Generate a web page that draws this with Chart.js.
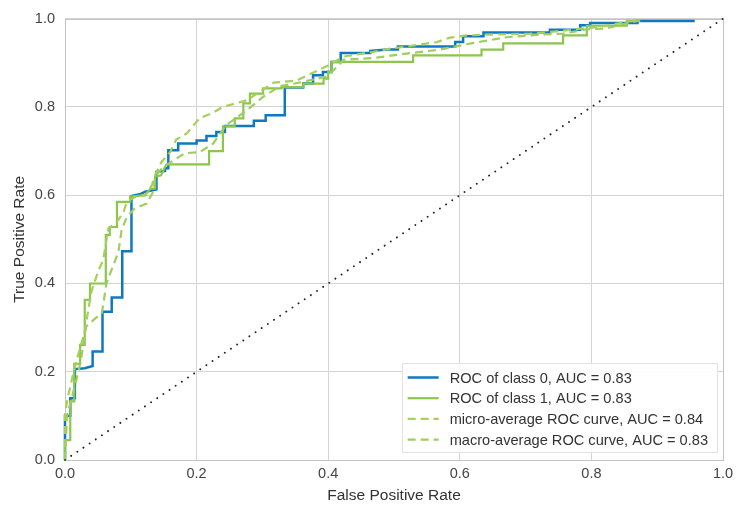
<!DOCTYPE html>
<html>
<head>
<meta charset="utf-8">
<script src="https://cdn.jsdelivr.net/npm/chart.js@4.4.0/dist/chart.umd.min.js"></script>
<style>
  html, body { margin: 0; padding: 0; background: #fff; }
  #wrap { width: 744px; height: 514px; }
</style>
</head>
<body>
<div id="wrap"><canvas id="roc" width="744" height="514"></canvas></div>
<script>
// axis ticks (both axes)
const tickValues = [0, 0.2, 0.4, 0.6, 0.8, 1.0];

const seriesLabels = [
  'ROC of class 0, AUC = 0.83',
  'ROC of class 1, AUC = 0.83',
  'micro-average ROC curve, AUC = 0.84',
  'macro-average ROC curve, AUC = 0.83'
];

// [fpr, tpr] pairs
const class0Roc = [
  [0, 0], [0, 0.1], [0.008, 0.1], [0.008, 0.14], [0.015, 0.14], [0.015, 0.206], [0.03, 0.208],
  [0.042, 0.213], [0.042, 0.246], [0.057, 0.246], [0.057, 0.336], [0.071, 0.336], [0.071, 0.368],
  [0.087, 0.368], [0.087, 0.473], [0.101, 0.473], [0.101, 0.598], [0.115, 0.603], [0.122, 0.608],
  [0.139, 0.613], [0.139, 0.653], [0.152, 0.655], [0.152, 0.661], [0.157, 0.661], [0.157, 0.702],
  [0.172, 0.702], [0.172, 0.717], [0.2, 0.717], [0.2, 0.724], [0.215, 0.724], [0.215, 0.734],
  [0.23, 0.734], [0.23, 0.743], [0.243, 0.743], [0.243, 0.757], [0.287, 0.757], [0.287, 0.769],
  [0.305, 0.769], [0.305, 0.781], [0.334, 0.781], [0.334, 0.844], [0.362, 0.844], [0.362, 0.853],
  [0.377, 0.853], [0.377, 0.872], [0.392, 0.872], [0.392, 0.879], [0.405, 0.879], [0.405, 0.902],
  [0.419, 0.902], [0.419, 0.922], [0.464, 0.922], [0.464, 0.927], [0.49, 0.93], [0.506, 0.93],
  [0.506, 0.937], [0.593, 0.937], [0.593, 0.947], [0.605, 0.947], [0.605, 0.96], [0.636, 0.96],
  [0.636, 0.969], [0.737, 0.969], [0.737, 0.975], [0.783, 0.975], [0.783, 0.985], [0.798, 0.985],
  [0.798, 0.99], [0.87, 0.99], [0.87, 0.995], [0.957, 0.995]
];

const class1Roc = [
  [0, 0], [0, 0.045], [0.008, 0.045], [0.008, 0.133], [0.014, 0.133], [0.014, 0.218], [0.023, 0.218],
  [0.023, 0.261], [0.03, 0.261], [0.03, 0.363], [0.038, 0.363], [0.038, 0.4], [0.062, 0.4],
  [0.062, 0.51], [0.068, 0.51], [0.068, 0.528], [0.079, 0.528], [0.079, 0.585], [0.099, 0.585],
  [0.099, 0.597], [0.122, 0.6], [0.13, 0.615], [0.137, 0.615], [0.137, 0.642], [0.146, 0.645],
  [0.154, 0.67], [0.219, 0.67], [0.219, 0.7], [0.24, 0.7], [0.24, 0.756], [0.258, 0.756],
  [0.258, 0.774], [0.271, 0.774], [0.271, 0.808], [0.281, 0.808], [0.281, 0.83], [0.301, 0.83],
  [0.301, 0.842], [0.329, 0.842], [0.329, 0.845], [0.362, 0.845], [0.362, 0.853], [0.393, 0.853],
  [0.393, 0.864], [0.4, 0.864], [0.4, 0.88], [0.405, 0.88], [0.405, 0.902], [0.529, 0.902],
  [0.529, 0.917], [0.633, 0.917], [0.633, 0.93], [0.666, 0.93], [0.666, 0.944], [0.757, 0.944],
  [0.757, 0.962], [0.793, 0.962], [0.793, 0.984], [0.854, 0.984], [0.854, 0.995], [0.874, 0.995]
];

const microRoc = [
  [0, 0], [0, 0.1], [0.003, 0.133], [0.015, 0.212], [0.03, 0.291], [0.04, 0.381], [0.051, 0.43],
  [0.058, 0.453], [0.066, 0.525], [0.073, 0.532], [0.081, 0.544], [0.089, 0.562], [0.094, 0.585],
  [0.106, 0.596], [0.122, 0.6], [0.132, 0.623], [0.137, 0.646], [0.147, 0.676], [0.16, 0.698],
  [0.169, 0.726], [0.185, 0.74], [0.205, 0.775], [0.225, 0.787], [0.24, 0.8], [0.276, 0.815],
  [0.317, 0.855], [0.352, 0.86], [0.4, 0.894], [0.423, 0.914], [0.469, 0.925], [0.494, 0.932],
  [0.519, 0.937], [0.565, 0.947], [0.585, 0.957], [0.61, 0.962], [0.646, 0.964], [0.707, 0.966],
  [0.757, 0.973], [0.793, 0.979], [0.808, 0.981], [0.833, 0.987], [0.854, 0.993], [0.874, 0.996]
];

const macroRoc = [
  [0, 0], [0.003, 0.1], [0.01, 0.14], [0.02, 0.197], [0.025, 0.234], [0.032, 0.302], [0.046, 0.321],
  [0.056, 0.333], [0.063, 0.4], [0.073, 0.44], [0.081, 0.47], [0.086, 0.521], [0.094, 0.551],
  [0.106, 0.57], [0.124, 0.581], [0.134, 0.608], [0.137, 0.642], [0.149, 0.664], [0.165, 0.679],
  [0.182, 0.695], [0.205, 0.698], [0.225, 0.717], [0.245, 0.759], [0.276, 0.792], [0.301, 0.823],
  [0.327, 0.847], [0.362, 0.857], [0.398, 0.869], [0.413, 0.89], [0.423, 0.907], [0.469, 0.911],
  [0.519, 0.921], [0.57, 0.93], [0.61, 0.942], [0.636, 0.949], [0.671, 0.958], [0.722, 0.964],
  [0.757, 0.966], [0.793, 0.976], [0.823, 0.978], [0.854, 0.99], [0.874, 0.996]
];

const chanceLine = [[0, 0], [1, 1]];

const FONT = "'Liberation Sans', Arial, sans-serif";
Chart.defaults.font.family = FONT;

function toPoints(pairs) {
  return pairs.map(([x, y]) => ({ x, y }));
}

// white legend box in the lower right of the plot
const boxLegend = {
  id: 'boxLegend',
  afterDraw(chart) {
    const { ctx, chartArea } = chart;
    const items = chart.data.datasets.filter(d => d.inLegend);
    ctx.save();
    ctx.font = '14.6px ' + FONT;
    const textW = Math.max(...items.map(d => ctx.measureText(d.label).width));
    const w = 6 + 31 + 11 + textW + 9;
    const h = 89;
    const right = chartArea.right - 6;
    const bottom = chartArea.bottom - 8;
    const left = right - w;
    const top = bottom - h;

    ctx.fillStyle = 'rgba(255,255,255,0.9)';
    ctx.fillRect(left, top, w, h);
    ctx.strokeStyle = '#e2e2e2';
    ctx.lineWidth = 1;
    ctx.strokeRect(Math.round(left) + 0.5, Math.round(top) + 0.5, Math.round(w), Math.round(h));

    items.forEach((d, i) => {
      const y = top + 14.5 + i * 20.7;
      ctx.beginPath();
      ctx.setLineDash(d.borderDash || []);
      ctx.strokeStyle = d.borderColor;
      ctx.lineWidth = d.borderWidth;
      ctx.moveTo(left + 6, y);
      ctx.lineTo(left + 37, y);
      ctx.stroke();
      ctx.setLineDash([]);
      ctx.fillStyle = '#333';
      ctx.textBaseline = 'middle';
      ctx.textAlign = 'left';
      ctx.fillText(d.label, left + 48, y + 1);
    });
    ctx.restore();
  }
};

// grey frame round the plot area
const plotFrame = {
  id: 'plotFrame',
  beforeDatasetsDraw(chart) {
    const { ctx, chartArea: a } = chart;
    ctx.save();
    ctx.strokeStyle = '#c4c4c4';
    ctx.lineWidth = 1;
    ctx.strokeRect(Math.round(a.left) + 0.5, Math.round(a.top) + 0.5, Math.round(a.width), Math.round(a.height));
    ctx.restore();
  }
};

function axisOptions(title, isX) {
  return {
    type: 'linear',
    min: 0,
    max: 1,
    afterBuildTicks: scale => { scale.ticks = tickValues.map(v => ({ value: v })); },
    afterFit: scale => {
      if (isX) scale.height = 54; else scale.width = 65;
    },
    ticks: {
      callback: v => v.toFixed(1),
      color: '#444',
      font: { size: 14.5 },
      padding: isX ? 5 : 10
    },
    grid: { color: '#d4d4d4', lineWidth: 1, drawTicks: false },
    border: { display: false },
    title: {
      display: true,
      text: title,
      color: '#333',
      font: { size: 15.5 },
      padding: isX ? { top: 0, bottom: 9 } : { top: 10, bottom: 0 }
    }
  };
}

new Chart(document.getElementById('roc'), {
  type: 'scatter',
  data: {
    datasets: [
      {
        label: seriesLabels[0], inLegend: true, data: toPoints(class0Roc),
        borderColor: '#0f79c0', borderWidth: 2.5, order: 4
      },
      {
        label: seriesLabels[1], inLegend: true, data: toPoints(class1Roc),
        borderColor: '#8cc64c', borderWidth: 2.2, order: 3
      },
      {
        label: seriesLabels[2], inLegend: true, data: toPoints(microRoc),
        borderColor: '#a6cf5c', borderWidth: 2.2, borderDash: [8, 5], order: 2
      },
      {
        label: seriesLabels[3], inLegend: true, data: toPoints(macroRoc),
        borderColor: '#9fcd62', borderWidth: 2.2, borderDash: [8, 5], order: 1
      },
      {
        label: 'chance', inLegend: false, data: toPoints(chanceLine),
        borderColor: '#222', borderWidth: 1.9, borderDash: [0.1, 7.3], borderCapStyle: 'round', order: 0
      }
    ].map(d => Object.assign({ showLine: true, pointRadius: 0, fill: false, tension: 0, clip: 3 }, d))
  },
  options: {
    responsive: false,
    devicePixelRatio: 1,
    animation: false,
    layout: { padding: { left: 0, right: 21, top: 18, bottom: 0 } },
    plugins: {
      legend: { display: false },
      tooltip: { enabled: false }
    },
    scales: {
      x: axisOptions('False Positive Rate', true),
      y: axisOptions('True Positive Rate', false)
    }
  },
  plugins: [plotFrame, boxLegend]
});
</script>
</body>
</html>
